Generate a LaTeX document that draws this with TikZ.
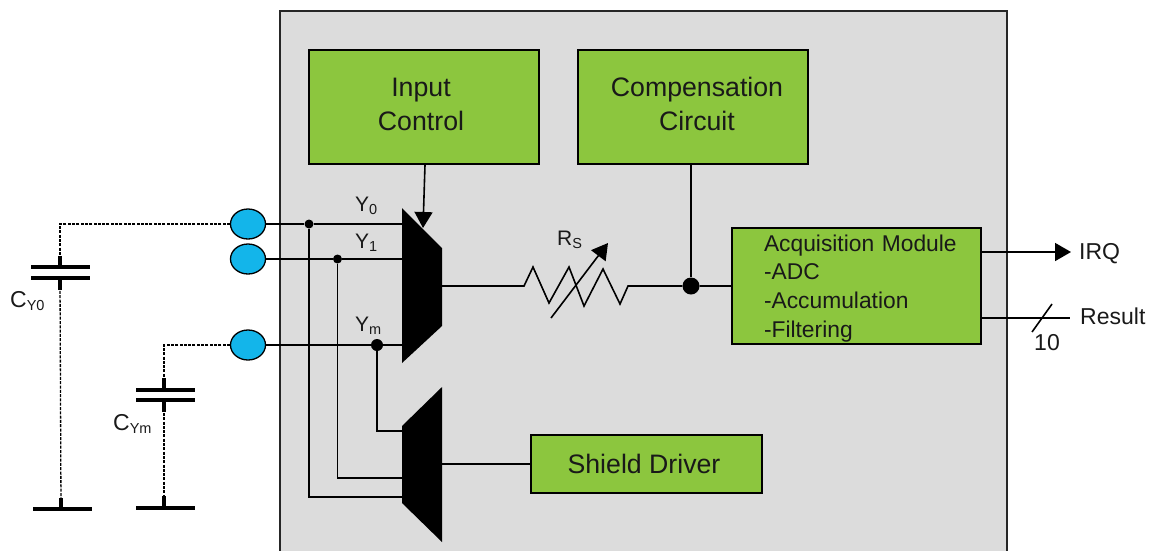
\documentclass[tikz,border=0pt]{standalone}
\usepackage{fontspec}
\setmainfont{Liberation Sans}
\usepackage{xcolor}
\usetikzlibrary{arrows.meta, shapes.geometric}
\definecolor{ChipGray}{RGB}{220, 220, 220}
\definecolor{BlockGreen}{RGB}{140, 198, 62}
\definecolor{PadBlue}{RGB}{19, 181, 234}
\newcommand{\sizedfont}[2]{\fontsize{#1}{#2}\selectfont}
\newcommand{\lowtext}[1]{\raisebox{-3pt}{\sizedfont{14.5}{15}#1}}
\tikzset{
  x=1pt, y=-1pt,
  chip/.style={rectangle, draw=black!85, line width=1.5pt, fill=ChipGray,
    inner sep=0pt},
  block/.style={rectangle, draw=black, line width=1.5pt, fill=BlockGreen,
    inner sep=0pt, align=center, text=black!90, font=\sizedfont{26.7}{34}},
  pad/.style={ellipse, draw=black, line width=1.3pt, fill=PadBlue,
    minimum width=35pt, minimum height=30pt, inner sep=0pt},
  junction/.style={circle, fill=black, inner sep=0pt, minimum size=#1},
  txt/.style={anchor=base west, inner sep=0pt, text=black!90,
    font=\sizedfont{23}{28}},
  wire/.style={line width=1.6pt, line join=miter},
  dashwire/.style={line width=1.3pt, dash pattern=on 3pt off 1.3pt},
  plate/.style={line width=3.6pt},
  stub/.style={line width=3.6pt},
  arr/.style={-{Triangle[length=16pt,width=18pt]}, line width=1.6pt},
}
\begin{document}
\begin{tikzpicture}
  \useasboundingbox (0,0) rectangle (1155,550);
  \node[chip, minimum width=727pt, minimum height=560pt] (chip) at (643.5,291) {};

  \node[block, minimum width=230pt, minimum height=114pt, text depth=6pt] (input) at (424,107)
    {Input\hspace*{6pt}\\\hspace*{-6pt}Control};
  \node[block, minimum width=230pt, minimum height=114pt, text depth=6pt] (comp) at (693,107)
    {\hspace*{8pt}Compensation\\\hspace*{8pt}Circuit};
  \node[block, minimum width=249pt, minimum height=116pt, text width=249pt,
    align=left, font=\sizedfont{22.8}{28.7}, text height=21pt] (acq) at (856.5,286)
    {\hspace*{32pt}Acquisition Module\\\hspace*{32pt}-ADC\\
     \hspace*{32pt}-Accumulation\\\hspace*{32pt}-Filtering};
  \node[block, minimum width=231pt, minimum height=58pt] (shield) at (646.5,464)
    {Shield Driver\hspace*{5pt}};

  \node[pad] (pad0) at (248,224) {};
  \node[pad] (pad1) at (248,259) {};
  \node[pad] (padm) at (248,345) {};

  \fill (402,208) -- (442,248) -- (442,326) -- (402,363) -- cycle;
  \fill (402,426) -- (442,387) -- (442,542) -- (402,503) -- cycle;

  \coordinate (muxa0) at (402,224);
  \coordinate (muxa1) at (402,259);
  \coordinate (muxam) at (402,345);
  \coordinate (muxatop) at (423,228);
  \coordinate (muxaout) at (442,286);
  \coordinate (muxbm) at (402,431);
  \coordinate (muxb1) at (402,478);
  \coordinate (muxb0) at (402,497);
  \coordinate (muxbout) at (442,464);
  \node[junction=9pt] (dot0) at (309,224) {};
  \node[junction=9pt] (dot1) at (337.5,259) {};
  \node[junction=12pt] (dotm) at (377,345) {};
  \node[junction=17pt] (dotr) at (691,286) {};

  \draw[wire] (pad0.east) -- (dot0) -- (muxa0);
  \draw[wire] (pad1.east) -- (dot1) -- (muxa1);
  \draw[wire] (padm.east) -- (dotm) -- (muxam);
  \draw[wire] (dot0) |- (muxb0);
  \draw[wire] (dot1) |- (muxb1);
  \draw[wire] (dotm) |- (muxbm);
  \draw[wire] (muxbout) -- (shield.west);
  \draw[arr] (input.south -| 425,0) -- (muxatop);
  \draw[wire] (comp.south -| dotr) -- (dotr);
  \draw[wire] (muxaout) -- (524,286) -- (533,267) -- (549,303) -- (569,267)
    -- (584,306) -- (603,269) -- (620,304) -- (628,286) -- (dotr) -- (acq.west);
  \draw[arr] (551,318) -- (608,243);

  \coordinate (irqend) at (1071,252);
  \coordinate (resend) at (1070,318);
  \draw[arr] (acq.east |- irqend) -- (irqend);
  \draw[wire] (acq.east |- resend) -- (resend);
  \draw[wire] (1032,332) -- (1052,304);

  \coordinate (capa) at (60,267);
  \coordinate (capb) at (60,278);
  \coordinate (gnda) at (61,509);
  \coordinate (capc) at (164,390);
  \coordinate (capd) at (164,400);
  \coordinate (gndb) at (164,508);

  \draw[dashwire] (pad0.west) -| (capa);
  \draw[dashwire] (capb) -- (gnda);
  \draw[dashwire] (padm.west) -| (capc);
  \draw[dashwire] (capd) -- (gndb);
  \draw[stub] (capa) -- ++(0,-11);
  \draw[stub] (capb) -- ++(0,12);
  \draw[stub] (gnda) -- ++(0,-11);
  \draw[stub] (capc) -- ++(0,-12);
  \draw[stub] (capd) -- ++(0,12);
  \draw[stub] (gndb) -- ++(0,-12);
  \draw[plate] (31,267) -- (90,267);
  \draw[plate] (31,278) -- (90,278);
  \draw[plate] (33,509) -- (92,509);
  \draw[plate] (136,390) -- (195,390);
  \draw[plate] (136,400) -- (195,400);
  \draw[plate] (136,508) -- (195,508);

  \node[txt] (cy0) at (10,307) {C\lowtext{Y0}};
  \node[txt] (cym) at (113,430) {C\lowtext{Ym}};
  \node[txt, font=\sizedfont{21}{25}] (y0) at (355,211) {Y\lowtext{0}};
  \node[txt, font=\sizedfont{21}{25}] (y1) at (355,248) {Y\lowtext{1}};
  \node[txt, font=\sizedfont{21}{25}] (ym) at (355,331) {Y\lowtext{m}};
  \node[txt, font=\sizedfont{21}{25}] (rs) at (557,245) {R\lowtext{S}};
  \node[txt] (irq) at (1079,259) {IRQ};
  \node[txt] (result) at (1080,324) {Result};
  \node[txt] (bits) at (1034,350) {10};
\end{tikzpicture}
\end{document}
